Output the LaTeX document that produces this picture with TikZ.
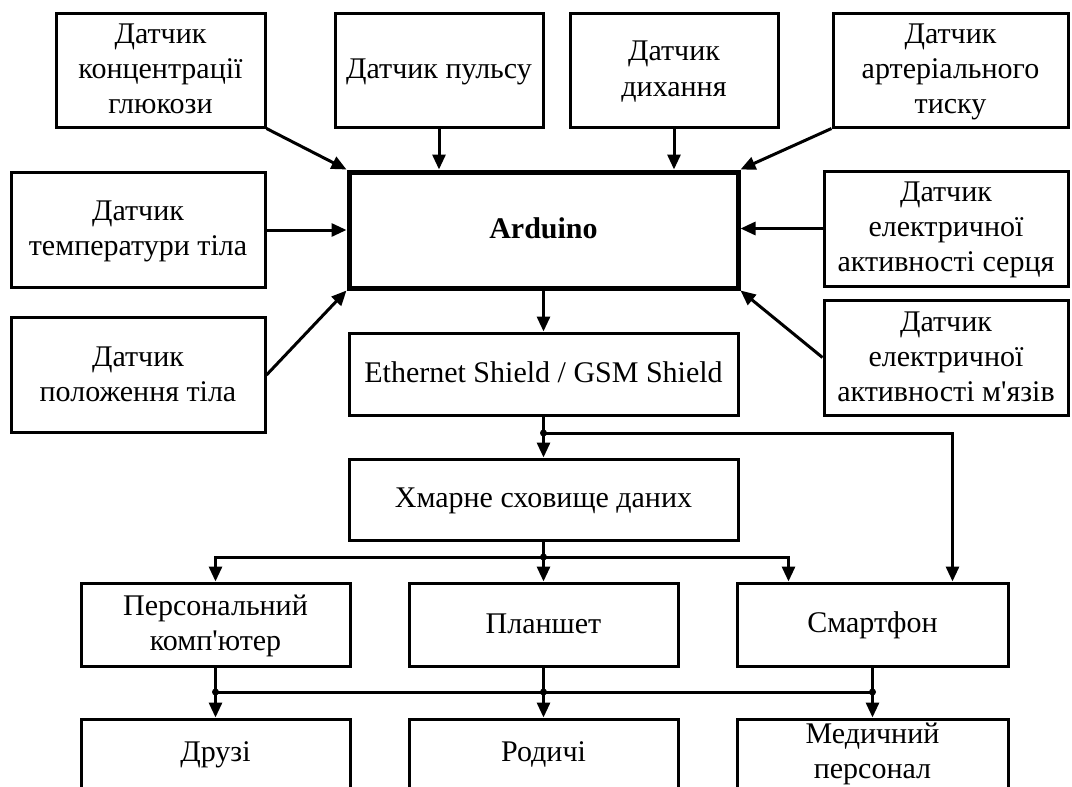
\documentclass[tikz,border=0pt]{standalone}
\usepackage{fontspec}
\setmainfont{Liberation Serif}
\usetikzlibrary{arrows.meta}

\newcommand{\vstrut}{\rule[-3pt]{0pt}{14.5pt}}

\tikzset{
  blk/.style={draw, line width=1.5pt, align=center, inner sep=0pt,
    font=\fontsize{15}{17.5}\selectfont},
  con/.style={line width=1.5pt, -{Triangle[length=7.5pt,width=6.5pt]}},
  bus/.style={line width=1.5pt},
  jdot/.style={circle, fill, inner sep=0pt, minimum size=3.5pt},
}

\begin{document}
\begin{tikzpicture}[x=0.5pt,y=-0.5pt]
    \clip (0,0) rectangle (1072,787);
    \fill[white] (0,0) rectangle (1072,787);

    % --- Arduino ---
    \node[blk, line width=2.5pt, minimum width=194.5pt, minimum height=58pt,
      font=\fontsize{15}{17.5}\selectfont\bfseries] (ard) at (543.5,230) {\vstrut Arduino};

    % --- Sensors above ---
    \foreach \nm/\xa/\xb/\txt in {glu/56/265/{Датчик\\концентрації\\глюкози},
        pul/335/543/{Датчик пульсу}, dyh/570/778/{Датчик\\дихання},
        art/833/1068/{Датчик\\артеріального\\тиску}}{
        \pgfmathsetmacro{\xmid}{(\xa+\xb)/2}
        \pgfmathsetmacro{\bw}{(\xb-\xa)/2}
        \node[blk, minimum width=\bw pt, minimum height=57pt] (\nm) at (\xmid,70) {\vstrut\txt\vstrut};
    }

    % --- Sensors left and right ---
    \foreach \nm/\xa/\xb/\ymid/\txt in {tem/11/265/230/{Датчик\\температури тіла},
        pos/11/265/375/{Датчик\\положення тіла},
        hrt/824/1068/228.5/{Датчик\\електричної\\активності серця},
        msc/824/1068/357.5/{Датчик\\електричної\\активності м\textquotesingle язів}}{
        \pgfmathsetmacro{\xmid}{(\xa+\xb)/2}
        \pgfmathsetmacro{\bw}{(\xb-\xa)/2}
        \node[blk, minimum width=\bw pt, minimum height=57.5pt] (\nm) at (\xmid,\ymid) {\vstrut\txt\vstrut};
    }

    % --- Shield and cloud ---
    \node[blk, minimum width=194.5pt, minimum height=41pt] (eth) at (543.5,374)
      {\vstrut Ethernet Shield / GSM Shield};
    \node[blk, minimum width=194.5pt, minimum height=40.5pt] (cld) at (543.5,499.5)
      {\vstrut Хмарне сховище даних};

    % --- Devices ---
    \foreach \nm/\xa/\xb/\txt in {pc/81/350/{Персональний\\комп\textquotesingle ютер},
        tab/409/678/Планшет, phn/737/1008/Смартфон}{
        \pgfmathsetmacro{\xmid}{(\xa+\xb)/2}
        \pgfmathsetmacro{\bw}{(\xb-\xa)/2}
        \node[blk, minimum width=\bw pt, minimum height=41.5pt] (\nm) at (\xmid,624.5) {\vstrut\txt\vstrut};
    }

    % --- Receivers (cut off by the lower edge) ---
    \foreach \nm/\xa/\xb/\txt in {frd/81/350/Друзі, rel/409/678/Родичі,
        med/737/1008/{Медичний\\персонал}}{
        \pgfmathsetmacro{\xmid}{(\xa+\xb)/2}
        \pgfmathsetmacro{\bw}{(\xb-\xa)/2}
        \node[blk, draw=none, outer sep=0pt, minimum width=\bw pt, minimum height=34pt] (\nm) at (\xmid,753) {\vstrut\txt\vstrut};
        \draw[line width=1.5pt] ([yshift=-10pt]\nm.south west) -- (\nm.north west)
          -- (\nm.north east) -- ([yshift=-10pt]\nm.south east);
    }

    % --- Sensor links ---
    \draw[con] (glu.south east) -- (ard.north west);
    \draw[con] (pul.south) -- (pul.south |- ard.north);
    \draw[con] (dyh.south) -- (dyh.south |- ard.north);
    \draw[con] (art.south west) -- (ard.north east);
    \draw[con] (tem.east) -- (tem.east -| ard.west);
    \draw[con] (pos.east) -- (ard.south west);
    \draw[con] (hrt.west) -- (hrt.west -| ard.east);
    \draw[con] (msc.west) -- (ard.south east);
    \draw[con] (ard.south) -- (eth.north);

    % --- Distribution ---
    \coordinate (j1) at (543.5,433);
    \coordinate (j2) at (543.5,557);
    \draw[con] (eth.south) -- (cld.north);
    \draw[con] (j1) -| ([xshift=40pt]phn.north);
    \node[jdot] at (j1) {};
    \draw[con] (cld.south) -- (tab.north);
    \draw[con] (j2) -| (pc.north);
    \draw[con] (j2) -| ([xshift=-42pt]phn.north);
    \node[jdot] at (j2) {};

    \coordinate (j3) at (pc.south |- 0,692);
    \coordinate (j4) at (tab.south |- 0,692);
    \coordinate (j5) at (phn.south |- 0,692);
    \draw[bus] (pc.south) -- (j3) -- (j5) -- (phn.south);
    \draw[bus] (tab.south) -- (j4);
    \draw[con] (j3) -- ([yshift=0.75pt]frd.north);
    \draw[con] (j4) -- ([yshift=0.75pt]rel.north);
    \draw[con] (j5) -- ([yshift=0.75pt]med.north);
    \foreach \j in {j3,j4,j5}{
        \node[jdot] at (\j) {};
    }
\end{tikzpicture}
\end{document}
